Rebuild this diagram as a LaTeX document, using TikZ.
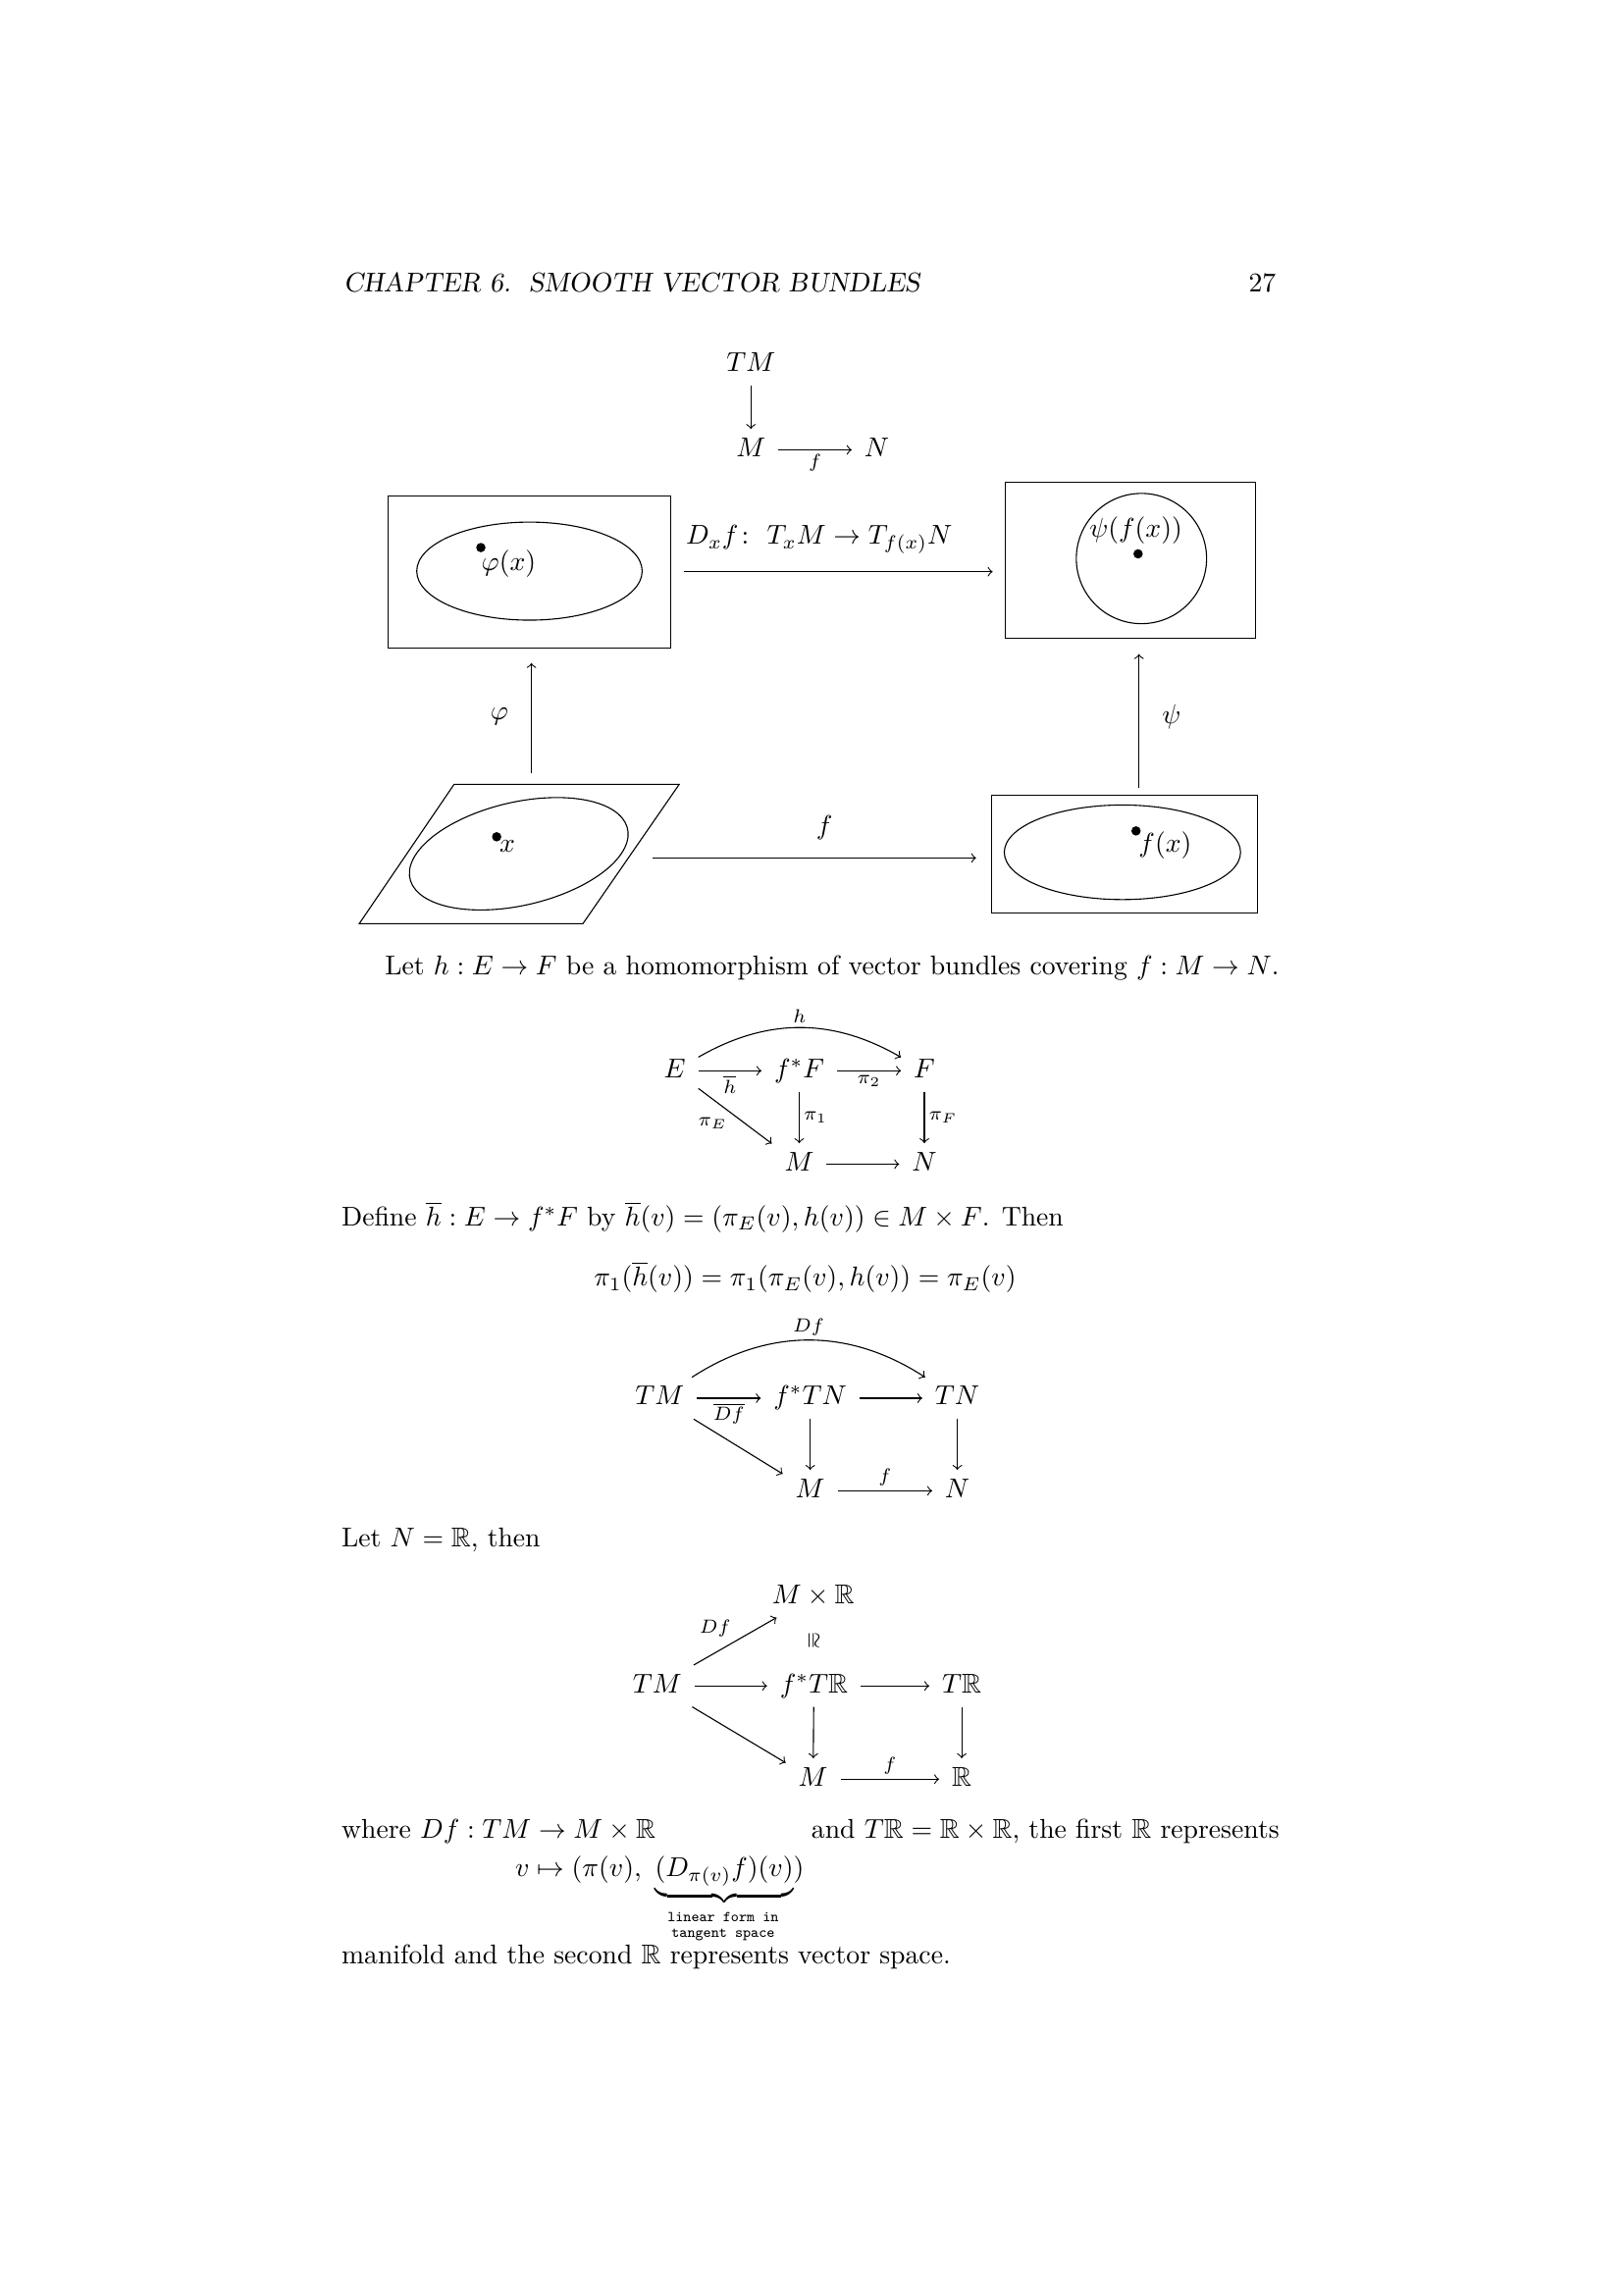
\documentclass[tikz,border=0pt]{standalone}
\usepackage{amsmath}
\usepackage{amssymb}
\usepackage{tikz}

\begin{document}
\begin{tikzpicture}[x=0.18936mm, y=-0.18936mm, >=to,
  obj/.style={inner xsep=4.5pt, inner ysep=3pt, text height=7pt, text depth=2pt},
  lab/.style={font=\scriptsize, inner sep=1.5pt},
  txt/.style={inner sep=0pt, anchor=base west},
  chart/.style={draw, rectangle, inner sep=0pt}]
\fill[white] (0,0) rectangle (1109,1568);
\useasboundingbox (0,0) rectangle (1109,1568);

% running head
\node[txt, font=\slshape] (head) at (234.5,199.4) {CHAPTER 6.\ \ SMOOTH VECTOR BUNDLES};
\node[inner sep=0pt, anchor=base east] (page) at (872,199.4) {27};

% TM over M -> N
\node[obj, anchor=base] (TM0) at (513,254) {$TM$};
\node[obj, anchor=base] (M0) at (513,312) {$M$};
\node[obj, anchor=base] (N0) at (599,312) {$N$};
\draw[->] (TM0) -- (M0);
\draw[->] (M0) -- node[below, lab] {$f$} (N0);

% charts
\node[chart, minimum width=103.98pt, minimum height=55.93pt] (boxL) at (361.6,390.6) {};
\draw (361.7,390.2) ellipse [x radius=77, y radius=33.5];
\fill (328.5,374.1) circle [radius=3.2];
\node[anchor=base, inner sep=0pt] (phix) at (347.5,389.5) {$\varphi(x)$};

\node[chart, minimum width=92.13pt, minimum height=57.22pt] (boxR) at (772.1,382.8) {};
\draw (779.8,381.6) circle [radius=44.5];
\fill (777.5,378.4) circle [radius=3.2];
\node[anchor=base, inner sep=0pt] (psifx) at (776,367.3) {$\psi(f(x))$};

\draw (310.2,535.9) -- (464,535.9) -- (398.2,631.1) -- (245.4,631.1) -- cycle;
\coordinate (chartTop) at (363.05,535.9);
\coordinate (chartRight) at (429.3,586.2);
\draw[shift={(354.4,583.3)}, xslant=0.68] (0,0) ellipse [x radius=70, y radius=38.4];
\fill (339.3,571.7) circle [radius=3.2];
\node[anchor=base, inner sep=0pt] (xlab) at (346.6,582) {$x$};

\node[chart, minimum width=97.79pt, minimum height=43.37pt] (boxBR) at (768.25,583.55) {};
\draw (766.8,582.3) ellipse [x radius=80.7, y radius=32.3];
\fill (776.1,567.7) circle [radius=3.2];
\node[anchor=base, inner sep=0pt] (fxlab) at (796,582.3) {$f(x)$};
\coordinate (psiFoot) at (778.1,543.3);

\draw[->, shorten <=4.63pt, shorten >=4.36pt] (boxL.east) -- (boxL.east -| boxR.west)
  node[pos=0.444, anchor=base, yshift=10pt, inner sep=0pt] {$D_xf\colon\ T_xM\to T_{f(x)}N$};
\draw[->, shorten <=4.1pt, shorten >=5.44pt] (chartTop) -- (chartTop |- boxL.south)
  node[midway, left=5pt] {$\varphi$};
\draw[->, shorten <=2.64pt, shorten >=5.71pt] (psiFoot) -- (psiFoot |- boxR.south)
  node[midway, right=5pt] {$\psi$};
\draw[->, shorten <=9pt, shorten >=5.55pt] (chartRight) -- (chartRight -| boxBR.west)
  node[pos=0.54, above=3pt] {$f$};

\node[txt] (leth) at (262.6,666) {Let $h : E \to F$ be a homomorphism of vector bundles covering $f : M \to N$.};

% pullback of F
\node[obj, anchor=base] (E) at (461,736.2) {$E$};
\node[obj, anchor=base] (fF) at (546,736.2) {$f^*F$};
\node[obj, anchor=base] (F) at (631.5,736.2) {$F$};
\node[obj, anchor=base] (M1) at (546,800) {$M$};
\node[obj, anchor=base] (N1) at (631.5,800) {$N$};
\draw[->] (E) -- node[below, lab] {$\overline{h}$} (fF);
\draw[->] (fF) -- node[below, lab] {$\pi_2$} (F);
\draw[->] (E) to[bend left=30] node[above, lab] {$h$} (F);
\draw[->] (fF) -- node[right, lab] {$\pi_1$} (M1);
\draw[->] (F) -- node[right, lab] {$\pi_F$} (N1);
\draw[->] (E) -- node[pos=0.45, below left, lab] {$\pi_E$} (M1);
\draw[->] (M1) -- (N1);

\node[txt] (define) at (233,837.6) {Define $\overline{h} : E \to f^*F$ by $\overline{h}(v) = (\pi_E(v), h(v)) \in M\times F$. Then};
\node[inner sep=0pt, anchor=base] (piid) at (550,878.8) {$\pi_1(\overline{h}(v)) = \pi_1(\pi_E(v),h(v)) = \pi_E(v)$};

% pullback of TN
\node[obj, anchor=base] (TM1) at (450.7,959.9) {$TM$};
\node[obj, anchor=base] (fTN) at (553.5,959.9) {$f^*TN$};
\node[obj, anchor=base] (TN) at (654,959.9) {$TN$};
\node[obj, anchor=base] (M2) at (553.5,1023.2) {$M$};
\node[obj, anchor=base] (N2) at (654,1023.2) {$N$};
\draw[->] (TM1) -- node[below, lab] {$\overline{Df}$} (fTN);
\draw[->] (fTN) -- (TN);
\draw[->] (TM1) to[bend left=33] node[above, lab] {$Df$} (TN);
\draw[->] (fTN) -- (M2);
\draw[->] (TN) -- (N2);
\draw[->] (TM1) -- (M2);
\draw[->] (M2) -- node[above, lab] {$f$} (N2);

\node[txt] (letN) at (233,1057) {Let $N = \mathbb{R}$, then};

% N = R
\node[obj, anchor=base] (MR) at (555.5,1095.5) {$M\times\mathbb{R}$};
\node[lab, rotate=-90] (iso) at (555.5,1120.8) {$\cong$};
\node[obj, anchor=base] (TM2) at (449,1156.5) {$TM$};
\node[obj, anchor=base] (fTR) at (556,1156.5) {$f^*T\mathbb{R}$};
\node[obj, anchor=base] (TR) at (657,1156.5) {$T\mathbb{R}$};
\node[obj, anchor=base] (M3) at (555.5,1220.2) {$M$};
\node[obj, anchor=base] (R3) at (657,1220.2) {$\mathbb{R}$};
\draw[->] (TM2) -- node[above left, lab] {$Df$} (MR);
\draw[->] (TM2) -- (fTR);
\draw[->] (fTR) -- (TR);
\draw[->] (fTR) -- (M3);
\draw[->] (TR) -- (R3);
\draw[->] (TM2) -- (M3);
\draw[->] (M3) -- node[above, lab] {$f$} (R3);

\node[txt] (where) at (233,1256) {where $Df : TM \to M\times\mathbb{R}$};
\node[txt] (andTR) at (554,1256) {and $T\mathbb{R} = \mathbb{R}\times\mathbb{R}$, the first $\mathbb{R}$ represents};
\node[txt] (vmap) at (351.6,1282) {$v \mapsto (\pi(v),\ \underbrace{(D_{\pi(v)}f)(v)})$};
\node[inner sep=0pt, align=center, font={\fontsize{5.5pt}{5.8pt}\selectfont\ttfamily}] (linform) at (494,1316.5) {linear form in\\tangent space};
\node[txt] (manif) at (233,1342) {manifold and the second $\mathbb{R}$ represents vector space.};
\end{tikzpicture}
\end{document}
